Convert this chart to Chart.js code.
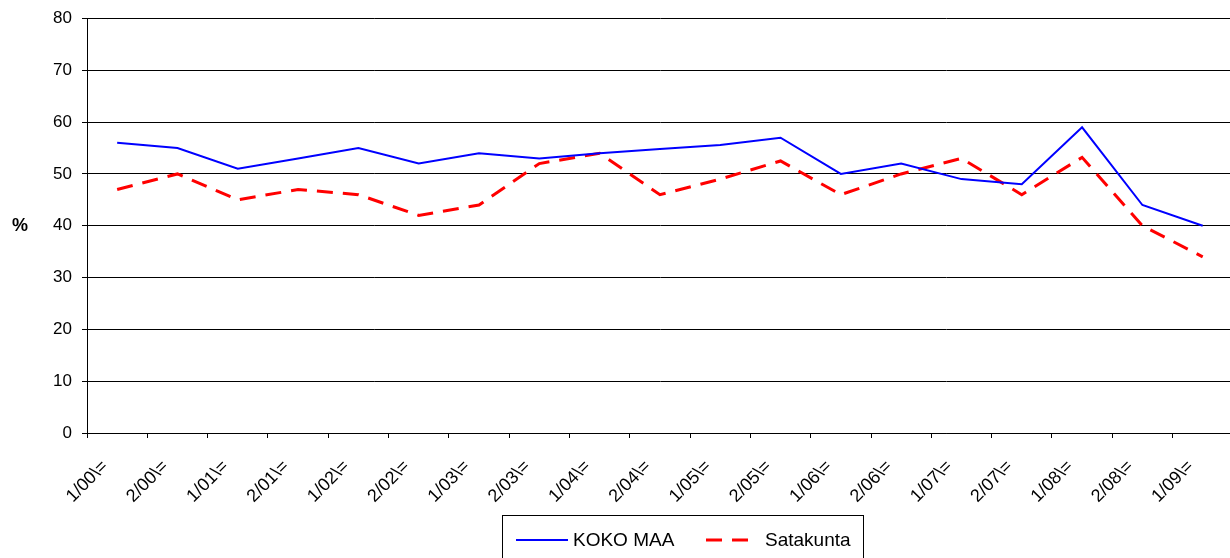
<!DOCTYPE html>
<html>
<head>
<meta charset="utf-8">
<script src="https://cdn.jsdelivr.net/npm/chart.js@4/dist/chart.umd.min.js"></script>
<style>
html,body{margin:0;padding:0;background:#fff;overflow:hidden;}
#wrap{position:relative;width:1236px;height:558px;}
</style>
</head>
<body>
<div id="wrap"><canvas id="c"></canvas></div>
<script>
const categories = ["1/00\\=","2/00\\=","1/01\\=","2/01\\=","1/02\\=","2/02\\=","1/03\\=","2/03\\=","1/04\\=","2/04\\=","1/05\\=","2/05\\=","1/06\\=","2/06\\=","1/07\\=","2/07\\=","1/08\\=","2/08\\=","1/09\\="];
const kokoMaa = [56,55,51,53,55,52,54,53,54,54.8,55.6,57,50,52,49,48,59,44,40];
const satakunta = [47,50,45,47,46,42,44,52,54,46,49,52.5,46,50,53,46,53.2,40,34];
const yTicks = [0,10,20,30,40,50,60,70,80];
const seriesNames = ["KOKO MAA","Satakunta"];
const yTitle = "%";

const FONT = "'Liberation Sans', Arial, sans-serif";

const customLegend = {
  id: 'customLegend',
  afterDraw(chart) {
    const ctx = chart.ctx;
    ctx.save();
    ctx.font = "bold 18px " + FONT;
    ctx.fillStyle = '#000';
    ctx.textAlign = 'center';
    ctx.textBaseline = 'middle';
    ctx.fillText(yTitle, 20, chart.scales.y.getPixelForValue(40));
    ctx.lineWidth = 1;
    ctx.strokeStyle = '#000';
    ctx.strokeRect(502.5, 515.5, 361, 50);
    ctx.font = "19px " + FONT;
    ctx.textAlign = 'left';
    const ds = chart.data.datasets;
    const items = [{x1:516,x2:568,tx:573},{x1:706,x2:756,tx:765}];
    const ly = 540;
    ds.forEach((d,i)=>{
      const it = items[i];
      ctx.beginPath();
      ctx.strokeStyle = d.borderColor;
      ctx.lineWidth = d.borderWidth;
      ctx.setLineDash(d.borderDash || []);
      ctx.moveTo(it.x1, ly);
      ctx.lineTo(it.x2, ly);
      ctx.stroke();
      ctx.setLineDash([]);
      ctx.fillStyle = '#000';
      ctx.fillText(d.label, it.tx, ly + 1);
    });
    ctx.restore();
  }
};

new Chart(document.getElementById('c'), {
  type: 'line',
  data: {
    labels: categories,
    datasets: [
      { label: seriesNames[0], data: kokoMaa, borderColor: '#0000ff', borderWidth: 2, pointRadius: 0, fill: false, tension: 0 },
      { label: seriesNames[1], data: satakunta, borderColor: '#ff0000', borderWidth: 3, borderDash: [16,10], pointRadius: 0, fill: false, tension: 0 }
    ]
  },
  options: {
    responsive: true,
    maintainAspectRatio: false,
    animation: false,
    layout: { padding: { top: 18, left: 0, right: 1, bottom: 0 } },
    plugins: { legend: { display: false }, tooltip: { enabled: false } },
    scales: {
      x: {
        type: 'category',
        offset: true,
        grid: { display: true, drawOnChartArea: false, drawTicks: true, tickLength: 5, offset: true, color: '#000' },
        border: { display: true, color: '#000', width: 1 },
        ticks: { color: '#000', font: { size: 18, family: FONT }, minRotation: 45, maxRotation: 45, autoSkip: false, padding: 18, labelOffset: -12 },
        afterFit(s) { s.height = 125; }
      },
      y: {
        min: 0, max: 80,
        afterBuildTicks(s) { s.ticks = yTicks.map(v => ({ value: v })); },
        grid: { color: '#000', lineWidth: 1, tickLength: 5, drawTicks: true },
        border: { display: true, color: '#000', width: 1 },
        ticks: { color: '#000', font: { size: 17, family: FONT, lineHeight: 1 }, padding: 10 },
        afterFit(s) { s.width = 87; }
      }
    }
  },
  plugins: [customLegend]
});
</script>
</body>
</html>
